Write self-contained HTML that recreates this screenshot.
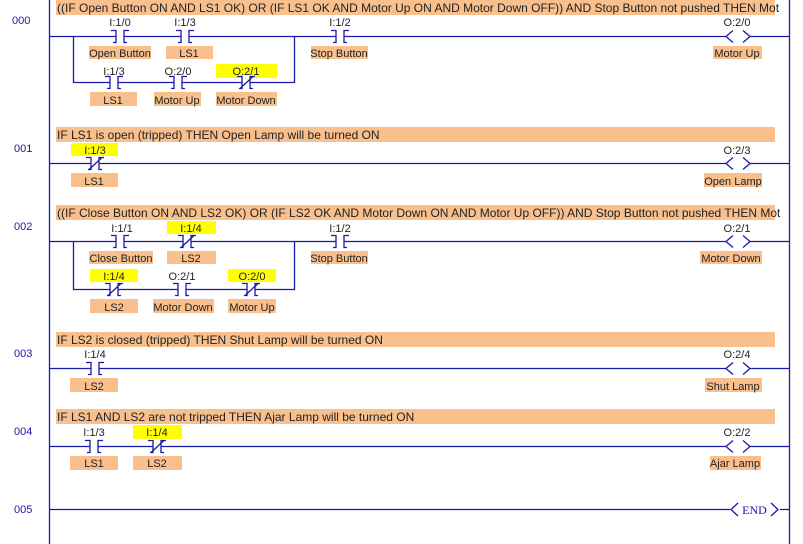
<!DOCTYPE html>
<html><head><meta charset="utf-8"><style>
html,body{margin:0;padding:0;background:#fff;width:803px;height:544px;overflow:hidden}
svg{font-family:"Liberation Sans",Arial,sans-serif}
.c{font-family:"Liberation Sans",Arial,sans-serif;font-size:12px;fill:#222}
.a{font-family:"Liberation Sans",Arial,sans-serif;font-size:11px;fill:#222;text-anchor:middle}
.t{font-family:"Liberation Sans",Arial,sans-serif;font-size:11px;fill:#222;text-anchor:middle}
.n{font-family:"Liberation Sans",Arial,sans-serif;font-size:11px;fill:#1a1aa0}
.w{stroke:#1a1aa8;stroke-width:1.3;fill:none}
</style></head><body>
<svg width="803" height="544" xmlns="http://www.w3.org/2000/svg" font-family="Liberation Sans, Arial, sans-serif">
<defs>
<g id="no"><rect x="-4" y="-7" width="8" height="14" fill="#fff"/><path class="w" d="M-9,-6 H-4 V6 H-7 M9,-6 H4 V6 H7"/></g>
<g id="nc"><rect x="-4" y="-7" width="8" height="14" fill="#fff"/><path class="w" d="M-9,-6 H-4 V6 H-7 M9,-6 H4 V6 H7 M-6,6 L7,-6"/></g>
<g id="coil"><rect x="-12" y="-7" width="24" height="14" fill="#fff"/><path class="w" d="M-5,-6 L-12,0 L-5,6 M5,-6 L12,0 L5,6"/></g>
</defs>
<line class="w" x1="49.5" y1="0" x2="49.5" y2="544"/>
<line class="w" x1="789.5" y1="0" x2="789.5" y2="544"/>

<text class="n" x="12" y="24">000</text>
<rect x="56" y="0" width="719" height="15" fill="#f9c08e"/>
<text class="c" x="57" y="12">((IF Open Button ON AND LS1 OK) OR (IF LS1 OK AND Motor Up ON AND Motor Down OFF)) AND Stop Button not pushed THEN Mot</text>
<line class="w" x1="49" y1="36.5" x2="789" y2="36.5"/>
<path class="w" d="M73.5,36 V82.5 H294.5 V36"/>
<use href="#no" x="120" y="36.5"/><text class="a" x="120" y="26">I:1/0</text>
<rect x="89" y="46" width="62" height="13" fill="#f9c08e"/><text class="t" x="120" y="57">Open Button</text>
<use href="#no" x="185" y="36.5"/><text class="a" x="185" y="26">I:1/3</text>
<rect x="166" y="46" width="47" height="13" fill="#f9c08e"/><text class="t" x="189" y="57">LS1</text>
<use href="#no" x="340" y="36.5"/><text class="a" x="340" y="26">I:1/2</text>
<rect x="311" y="46" width="57" height="13" fill="#f9c08e"/><text class="t" x="339" y="57">Stop Button</text>
<use href="#coil" x="738" y="36.5"/><text class="a" x="737" y="26">O:2/0</text>
<rect x="713" y="46" width="49" height="13" fill="#f9c08e"/><text class="t" x="737" y="57">Motor Up</text>
<use href="#no" x="114" y="82.5"/><text class="a" x="114" y="75">I:1/3</text>
<rect x="90" y="92" width="47" height="14" fill="#f9c08e"/><text class="t" x="113" y="104">LS1</text>
<use href="#no" x="178" y="82.5"/><text class="a" x="178" y="75">O:2/0</text>
<rect x="154" y="92" width="47" height="14" fill="#f9c08e"/><text class="t" x="177" y="104">Motor Up</text>
<rect x="216" y="64" width="61" height="14" fill="#ffff00"/>
<use href="#nc" x="246" y="82.5"/><text class="a" x="246" y="75">O:2/1</text>
<rect x="216" y="92" width="61" height="14" fill="#f9c08e"/><text class="t" x="246" y="104">Motor Down</text>

<text class="n" x="14" y="152">001</text>
<rect x="56" y="127" width="719" height="15" fill="#f9c08e"/>
<text class="c" x="57" y="139">IF LS1 is open (tripped) THEN Open Lamp will be turned ON</text>
<line class="w" x1="49" y1="163.5" x2="789" y2="163.5"/>
<rect x="71" y="143" width="47" height="13" fill="#ffff00"/>
<use href="#nc" x="95" y="163.5"/><text class="a" x="95" y="154">I:1/3</text>
<rect x="71" y="173" width="47" height="14" fill="#f9c08e"/><text class="t" x="94" y="185">LS1</text>
<use href="#coil" x="738" y="163.5"/><text class="a" x="737" y="154">O:2/3</text>
<rect x="704" y="173" width="58" height="14" fill="#f9c08e"/><text class="t" x="733" y="185">Open Lamp</text>

<text class="n" x="14" y="230">002</text>
<rect x="56" y="205" width="719" height="15" fill="#f9c08e"/>
<text class="c" x="57" y="217">((IF Close Button ON AND LS2 OK) OR (IF LS2 OK AND Motor Down ON AND Motor Up OFF)) AND Stop Button not pushed THEN Mot</text>
<line class="w" x1="49" y1="241.5" x2="789" y2="241.5"/>
<path class="w" d="M73.5,241 V289.5 H294.5 V241"/>
<use href="#no" x="120" y="241.5"/><text class="a" x="122" y="232">I:1/1</text>
<rect x="89" y="251" width="64" height="13" fill="#f9c08e"/><text class="t" x="121" y="262">Close Button</text>
<rect x="167" y="221" width="49" height="13" fill="#ffff00"/>
<use href="#nc" x="187" y="241.5"/><text class="a" x="191" y="232">I:1/4</text>
<rect x="167" y="251" width="49" height="13" fill="#f9c08e"/><text class="t" x="191" y="262">LS2</text>
<use href="#no" x="340" y="241.5"/><text class="a" x="340" y="232">I:1/2</text>
<rect x="311" y="251" width="57" height="13" fill="#f9c08e"/><text class="t" x="339" y="262">Stop Button</text>
<use href="#coil" x="738" y="241.5"/><text class="a" x="737" y="232">O:2/1</text>
<rect x="700" y="251" width="62" height="13" fill="#f9c08e"/><text class="t" x="731" y="262">Motor Down</text>
<rect x="90" y="269" width="48" height="13" fill="#ffff00"/>
<use href="#nc" x="114" y="289.5"/><text class="a" x="114" y="280">I:1/4</text>
<rect x="90" y="299" width="48" height="14" fill="#f9c08e"/><text class="t" x="114" y="311">LS2</text>
<use href="#no" x="182" y="289.5"/><text class="a" x="182" y="280">O:2/1</text>
<rect x="153" y="299" width="61" height="14" fill="#f9c08e"/><text class="t" x="183" y="311">Motor Down</text>
<rect x="228" y="269" width="48" height="13" fill="#ffff00"/>
<use href="#nc" x="251" y="289.5"/><text class="a" x="252" y="280">O:2/0</text>
<rect x="228" y="299" width="48" height="14" fill="#f9c08e"/><text class="t" x="252" y="311">Motor Up</text>

<text class="n" x="14" y="357">003</text>
<rect x="56" y="332" width="719" height="15" fill="#f9c08e"/>
<text class="c" x="57" y="344">IF LS2 is closed (tripped) THEN Shut Lamp will be turned ON</text>
<line class="w" x1="49" y1="368.5" x2="789" y2="368.5"/>
<use href="#no" x="95" y="368.5"/><text class="a" x="95" y="358">I:1/4</text>
<rect x="70" y="378" width="48" height="14" fill="#f9c08e"/><text class="t" x="94" y="390">LS2</text>
<use href="#coil" x="738" y="368.5"/><text class="a" x="737" y="358">O:2/4</text>
<rect x="705" y="378" width="57" height="14" fill="#f9c08e"/><text class="t" x="733" y="390">Shut Lamp</text>

<text class="n" x="14" y="435">004</text>
<rect x="56" y="409" width="719" height="15" fill="#f9c08e"/>
<text class="c" x="57" y="421">IF LS1 AND LS2 are not tripped THEN Ajar Lamp will be turned ON</text>
<line class="w" x1="49" y1="446.5" x2="789" y2="446.5"/>
<use href="#no" x="94" y="446.5"/><text class="a" x="94" y="436">I:1/3</text>
<rect x="70" y="456" width="48" height="14" fill="#f9c08e"/><text class="t" x="94" y="467">LS1</text>
<rect x="133" y="425" width="49" height="14" fill="#ffff00"/>
<use href="#nc" x="157" y="446.5"/><text class="a" x="157" y="436">I:1/4</text>
<rect x="133" y="456" width="49" height="14" fill="#f9c08e"/><text class="t" x="157" y="467">LS2</text>
<use href="#coil" x="738" y="446.5"/><text class="a" x="737" y="436">O:2/2</text>
<rect x="710" y="456" width="51" height="14" fill="#f9c08e"/><text class="t" x="735" y="467">Ajar Lamp</text>

<text class="n" x="14" y="513">005</text>
<line class="w" x1="49" y1="509.5" x2="789" y2="509.5"/>
<rect x="730" y="502" width="50" height="15" fill="#fff"/>
<path class="w" d="M738,503 L731,509.5 L738,516 M771,503 L778,509.5 L771,516"/>
<text x="754.5" y="514" style="font-family:'Liberation Serif',serif;font-size:12px;fill:#1a1aa8;text-anchor:middle">END</text>
</svg>
</body></html>
